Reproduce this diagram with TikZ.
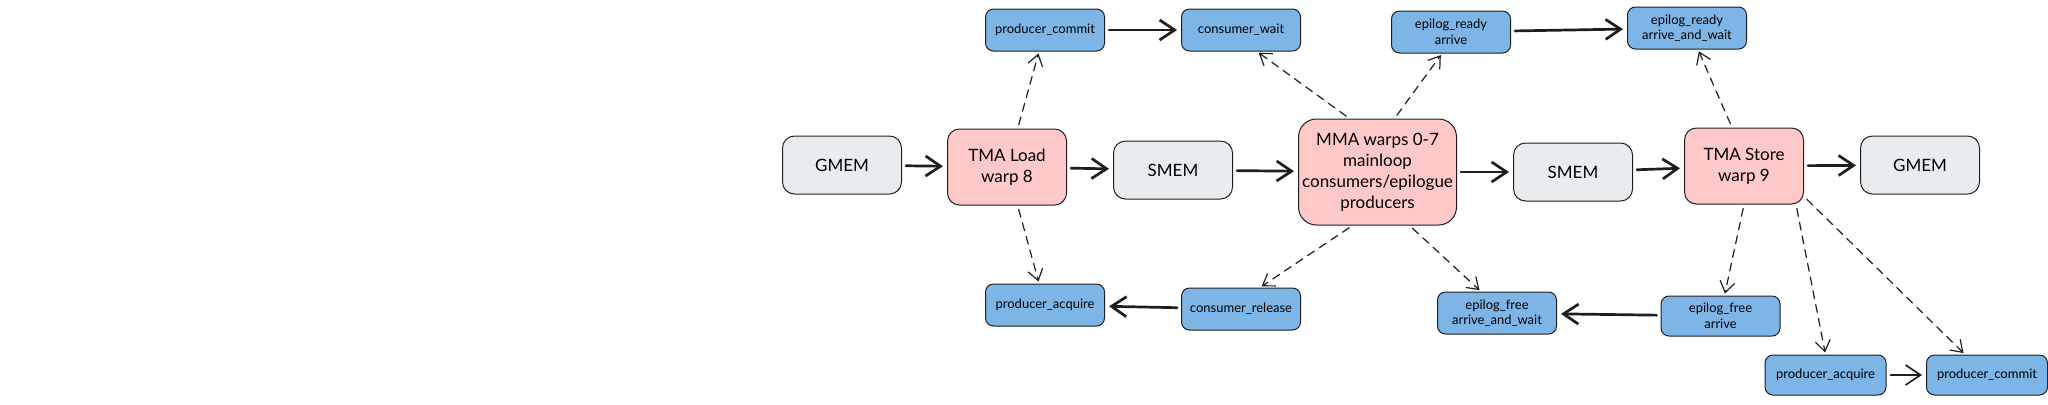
\documentclass[tikz,border=0pt]{standalone}
\usepackage{fontspec}
\setmainfont{Lato}
\usetikzlibrary{arrows.meta,positioning}
\definecolor{memgray}{HTML}{E9ECEF}
\definecolor{warppink}{HTML}{FFC9C9}
\definecolor{barblue}{RGB}{124,181,230}
\definecolor{inkline}{HTML}{1E1E1E}

\begin{document}
\begin{tikzpicture}[font=\fontsize{8.5}{10.5}\selectfont, line join=round, line cap=round]
\tikzstyle{mem}=[draw=inkline, line width=0.5pt, rounded corners=6pt, fill=memgray, align=center, minimum width=59.5pt, minimum height=29pt, inner sep=0pt]
\tikzstyle{warp}=[mem, fill=warppink, minimum height=38pt]
\tikzstyle{bar}=[draw=inkline, line width=0.5pt, rounded corners=4pt, fill=barblue, align=center, minimum width=59.5pt, minimum height=21pt, inner sep=0pt, font=\fontsize{6.5}{7.8}\selectfont]
\tikzstyle{flow}=[draw=inkline, line width=1.35pt, -{Straight Barb[length=7.5pt, width=10pt]}, shorten <=2pt, shorten >=2pt]
\tikzstyle{sync}=[draw=inkline, line width=0.6pt, dash pattern=on 4pt off 3pt, -{Straight Barb[length=5.5pt, width=7.5pt]}, shorten <=2pt, shorten >=1pt]
\useasboundingbox (0,0) rectangle (1024pt,-202pt);
% data path
\node[mem] (gmemA) at (421pt,-82.5pt) {GMEM};
\node[warp, right=22.5pt of gmemA, yshift=-1pt] (tmaload) {TMA Load\\warp 8};
\node[mem, right=23pt of tmaload, yshift=-1.5pt] (smemA) {SMEM};
\node[warp, right=32.5pt of smemA, yshift=-1pt, minimum width=79pt, minimum height=53pt, rounded corners=9pt] (mma) {MMA warps 0-7\\mainloop\\consumers/epilogue\\producers};
\node[mem, right=28pt of mma] (smemB) {SMEM};
\node[warp, right=25.5pt of smemB, yshift=3pt] (tmastore) {TMA Store\\warp 9};
\node[mem, right=28pt of tmastore, yshift=0.5pt] (gmemB) {GMEM};
% barriers above
\node[bar, above=38.5pt of tmaload, xshift=19pt] (pcommitA) {producer\_commit};
\node[bar, right=38pt of pcommitA] (cwait) {consumer\_wait};
\node[bar, right=45pt of cwait, yshift=-1pt] (ereadyA) {epilog\_ready\\arrive};
\node[bar, right=58pt of ereadyA, yshift=2pt] (ereadyB) {epilog\_ready\\arrive\_and\_wait};
% barriers below
\node[bar, below=39pt of tmaload, xshift=19pt] (pacquireA) {producer\_acquire};
\node[bar, right=38pt of pacquireA, yshift=-2pt] (crelease) {consumer\_release};
\node[bar, right=68pt of crelease, yshift=-2pt] (efreeB) {epilog\_free\\arrive\_and\_wait};
\node[bar, right=51.75pt of efreeB, yshift=-1.5pt, minimum height=20pt] (efreeA) {epilog\_free\\arrive};
\node[bar, below=9pt of efreeA, xshift=52.5pt, minimum width=60.5pt, minimum height=20pt] (pacquireB) {producer\_acquire};
\node[bar, right=19.75pt of pacquireB, minimum width=60.5pt, minimum height=20pt] (pcommitB) {producer\_commit};
\foreach \x/\y in {gmemA/tmaload,tmaload/smemA,smemA/mma,mma/smemB,smemB/tmastore,tmastore/gmemB,pcommitA/cwait,ereadyA/ereadyB,crelease/pacquireA,efreeA/efreeB}{\draw[flow] (\x) -- (\y);}
\draw[flow, line width=0.8pt] (pacquireB) -- (pcommitB);
% sync arrows
\draw[sync] (tmaload) -- (pcommitA);
\draw[sync] (tmaload) -- (pacquireA);
\draw[sync] ([xshift=-14pt]mma.north) -- ([xshift=8pt]cwait.south);
\draw[sync] ([xshift=8.5pt]mma.north) -- ([xshift=-4.5pt]ereadyA.south);
\draw[sync] ([xshift=-12.5pt]mma.south) -- ([xshift=9.5pt]crelease.north);
\draw[sync] ([xshift=16pt]mma.south) -- ([xshift=-8pt]efreeB.north);
\draw[sync] ([xshift=-6pt]tmastore.north) -- ([xshift=5.5pt]ereadyB.south);
\draw[sync] (tmastore.south) -- ([xshift=2pt]efreeA.north);
\draw[sync] ([xshift=-4pt]tmastore.south east) -- (pacquireB.north);
\draw[sync] ([yshift=4pt]tmastore.south east) -- ([xshift=-11pt]pcommitB.north);
\end{tikzpicture}
\end{document}
